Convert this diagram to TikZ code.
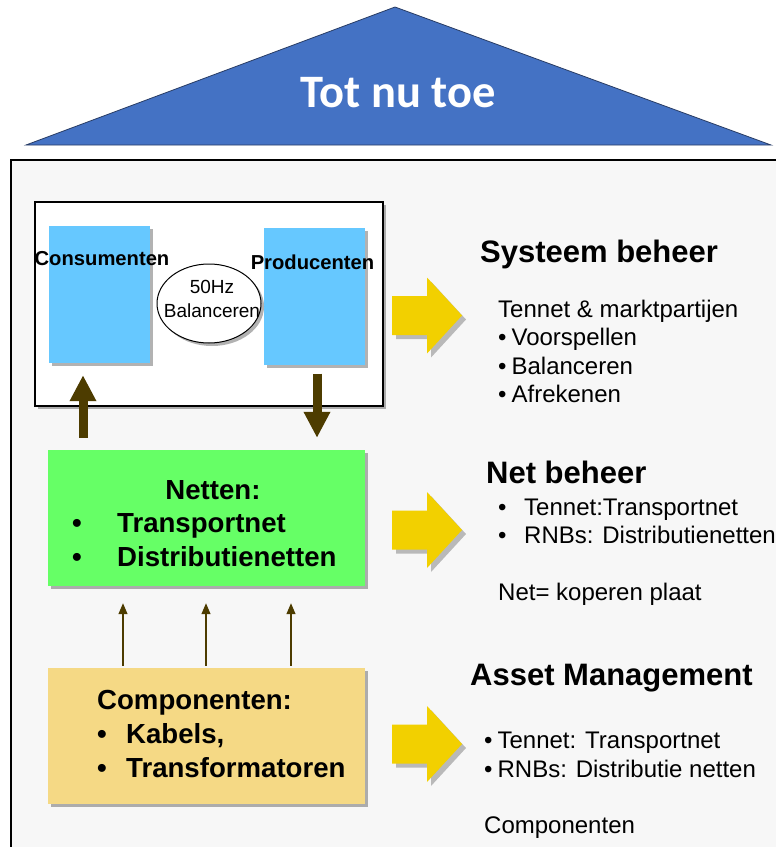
\documentclass[tikz,border=0pt]{standalone}
\usepackage{fontspec}
\setmainfont{Liberation Sans}
\newfontfamily\titlefont{Carlito}
\usetikzlibrary{arrows.meta,shadows,shapes.geometric,calc}
\definecolor{roofblue}{RGB}{68,114,196}
\definecolor{roofedge}{RGB}{40,60,100}
\definecolor{panelgray}{RGB}{247,247,247}
\definecolor{lightblue}{RGB}{102,200,255}
\definecolor{netgreen}{RGB}{102,255,102}
\definecolor{compyellow}{RGB}{245,217,133}
\definecolor{arrowyellow}{RGB}{242,208,0}
\definecolor{darkolive}{RGB}{77,60,0}
\tikzset{
  softshadow/.style={drop shadow={shadow xshift=3pt,shadow yshift=-3pt,opacity=0.3,fill=black}},
  bluebox/.style={fill=lightblue,inner sep=0pt,minimum width=101pt,minimum height=137pt,softshadow},
  bigbox/.style={inner sep=0pt,minimum width=317pt,minimum height=136pt,softshadow},
  thickarr/.style={draw=darkolive,line width=9pt,-{Triangle[width=25pt,length=26pt]}},
  thinarr/.style={draw=darkolive,line width=1.3pt,-{Triangle[width=9pt,length=11pt]}},
  lbold/.style={font=\bfseries\fontsize{27.6}{31}\selectfont,inner sep=0pt},
  rhead/.style={font=\bfseries\fontsize{31}{35}\selectfont,inner sep=0pt,anchor=base west},
  rtext/.style={font=\fontsize{24}{28}\selectfont,inner sep=0pt,anchor=base west},
  yarrow/.pic={\fill[arrowyellow,drop shadow={shadow xshift=4pt,shadow yshift=-4pt,opacity=0.25,fill=black}]
     (0,-19.5) -- (35,-19.5) -- (35,-38) -- (70,0) -- (35,38) -- (35,19.5) -- (0,19.5) -- cycle;}
}
\begin{document}
\begin{tikzpicture}[x=1pt,y=-1pt]
\useasboundingbox (0,0) rectangle (776,847);
\clip (0,0) rectangle (776,847);
\fill[white] (0,0) rectangle (776,847);
% roof
\draw[fill=roofblue,draw=roofedge,line width=0.8pt] (395,7) -- (771,145) -- (26,145) -- cycle;
\node[font=\titlefont\bfseries\fontsize{46.5}{55}\selectfont,text=white,anchor=base,inner sep=0pt] (title) at (398,107) {Tot nu toe};
% panel
\draw[fill=panelgray,line width=1.5pt] (11,160) rectangle (800,880);
% system box
\node[draw,line width=1.2pt,fill=white,inner sep=0pt,minimum width=348pt,minimum height=204pt,softshadow] (sys) at (209,304) {};
\node[bluebox] (cons) at (99.5,294.5) {};
\node[bluebox] (prod) at (314.5,296) {};
\node[ellipse,draw,line width=1pt,fill=white,inner sep=0pt,minimum width=104pt,minimum height=79pt,softshadow] (hz) at (209,303.5) {};
\node[font=\bfseries\fontsize{20.2}{24}\selectfont,anchor=base,inner sep=0pt] (consl) at (102,265) {Consumenten};
\node[font=\bfseries\fontsize{20.2}{24}\selectfont,anchor=base,inner sep=0pt] (prodl) at (312.5,269) {Producenten};
\node[font=\fontsize{19}{23}\selectfont,anchor=base,inner sep=0pt] (hz1) at (212,293) {50Hz};
\node[font=\fontsize{19}{23}\selectfont,anchor=base,inner sep=0pt] (hz2) at (212,317) {Balanceren};
% net box
\node[bigbox,fill=netgreen] (net) at (206.5,518) {};
\node[lbold,anchor=base] (nett) at (213,499) {Netten:};
\node[lbold,anchor=base] (nb1) at (77,532) {\textbullet};
\node[lbold,anchor=base west] (nt1) at (117,532) {Transportnet};
\node[lbold,anchor=base] (nb2) at (77,566) {\textbullet};
\node[lbold,anchor=base west] (nt2) at (117,566) {Distributienetten};
% component box
\node[bigbox,fill=compyellow] (comp) at (206.5,736) {};
\node[lbold,anchor=base west] (compt) at (97,709) {Componenten:};
\node[lbold,anchor=base] (cb1) at (102,743) {\textbullet};
\node[lbold,anchor=base west] (ct1) at (126,743) {Kabels,};
\node[lbold,anchor=base] (cb2) at (102,777) {\textbullet};
\node[lbold,anchor=base west] (ct2) at (126,777) {Transformatoren};
% thick arrows
\coordinate (upx) at (83,0);
\coordinate (dnx) at (317,0);
\draw[thickarr,shorten <=12pt,shorten >=12pt] (net.north -| upx) -- (cons.south -| upx);
\draw[thickarr,shorten <=9pt,shorten >=12pt] (prod.south -| dnx) -- (net.north -| dnx);
% thin arrows
\foreach \xx [count=\i] in {123,206,291}{
  \coordinate (t\i) at (\xx,0);
  \draw[thinarr,shorten <=2pt,shorten >=17pt] (comp.north -| t\i) -- (net.south -| t\i);
}
% yellow arrows
\pic at (392,315.5) {yarrow};
\pic at (392,530) {yarrow};
\pic at (392,744) {yarrow};
% right texts
\node[rhead] (h1) at (480,262) {Systeem beheer};
\node[rtext] (s0) at (498,317) {Tennet \& marktpartijen};
\node[rtext] (s1) at (498,345.5) {\textbullet\hspace{5pt}Voorspellen};
\node[rtext] (s2) at (498,374) {\textbullet\hspace{5pt}Balanceren};
\node[rtext] (s3) at (498,402.5) {\textbullet\hspace{5pt}Afrekenen};
\node[rhead] (h2) at (486,483) {Net beheer};
\node[rtext] (nbb1) at (498,515) {\textbullet};
\node[rtext] (n1) at (524,515) {Tennet:Transportnet};
\node[rtext] (nbb2) at (498,543) {\textbullet};
\node[rtext] (n2) at (524,543) {RNBs: Distributienetten};
\node[rtext] (n3) at (498,600) {Net= koperen plaat};
\node[rhead] (h3) at (470,685) {Asset Management};
\node[rtext] (a1) at (484,748) {\textbullet\hspace{5pt}Tennet: Transportnet};
\node[rtext] (a2) at (484,777) {\textbullet\hspace{5pt}RNBs: Distributie netten};
\node[rtext] (a3) at (484,833) {Componenten};
\end{tikzpicture}
\end{document}
